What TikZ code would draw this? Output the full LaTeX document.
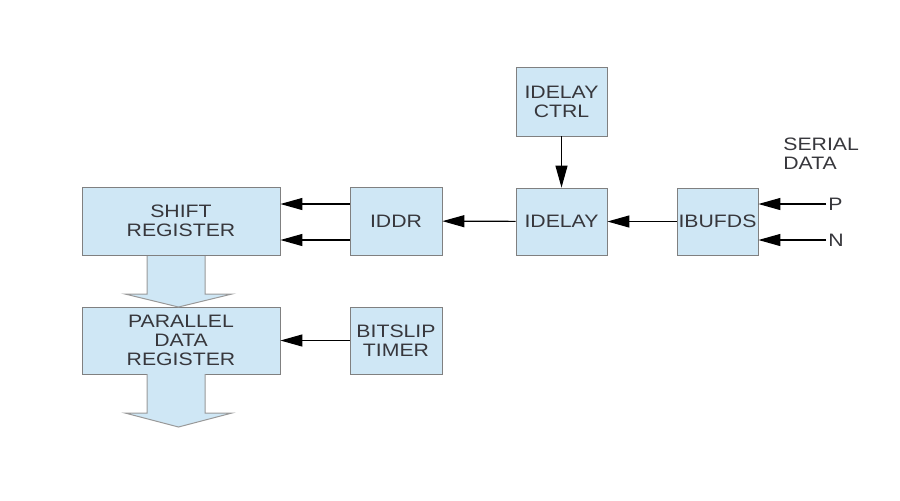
\documentclass[tikz,border=0pt]{standalone}
\usepackage{fontspec}
\setmainfont{Liberation Sans}[FakeStretch=1.18]
\usetikzlibrary{arrows.meta}
\usetikzlibrary{calc}

\definecolor{boxblue}{RGB}{207,231,245}
\definecolor{boxline}{RGB}{128,128,128}
\definecolor{txtgray}{RGB}{55,55,60}

\tikzset{
  blk/.style={draw=boxline,fill=boxblue,text=txtgray,align=center,
    inner sep=0pt,font=\fontsize{9}{9.4}\selectfont},
  lbl/.style={text=txtgray,inner sep=1pt,font=\fontsize{9}{9.4}\selectfont},
  sig/.style={->,>={Triangle[length=11pt,width=6pt]},draw=black,line width=0.6pt},
  bigarrow/.style={draw=boxline!80,fill=boxblue,line width=0.5pt}
}

\begin{document}
\begin{tikzpicture}[x=0.5pt,y=-0.5pt]
\useasboundingbox[fill=white] (0,0) rectangle (900,500);

% blocks
\node[blk,minimum width=99pt,minimum height=34pt] (sreg) at (181,221) {SHIFT\\REGISTER};
\node[blk,minimum width=46pt,minimum height=34pt] (iddr) at (396,221) {IDDR};
\node[blk,minimum width=45.5pt,minimum height=33.5pt] (idelay) at (561.5,221.5) {IDELAY};
\node[blk,minimum width=45.5pt,minimum height=34.5pt] (idctrl) at (561.5,101.5) {IDELAY\\CTRL};
\node[blk,minimum width=40.5pt,minimum height=33.5pt] (ibufds) at (717.5,221.5) {IBUFDS};
\node[blk,minimum width=99pt,minimum height=33.5pt] (preg) at (181,340.5) {PARALLEL\\DATA\\REGISTER};
\node[blk,minimum width=46pt,minimum height=33.5pt] (bitslip) at (396,340.5) {BITSLIP\\TIMER};

% inputs
\node[lbl,anchor=west,align=left] (serial) at (781,154) {SERIAL\\DATA};
\node[lbl,anchor=west] (pin) at (826,204) {P};
\node[lbl,anchor=west] (nin) at (826,240) {N};

% signal lines
\draw[sig] (pin.west) -- (pin.west -| ibufds.east);
\draw[sig] (nin.west) -- (nin.west -| ibufds.east);
\draw[sig] (ibufds) -- (idelay);
\draw[sig] (idctrl) -- (idelay);
\draw[sig] (idelay) -- (iddr);
\draw[sig] ([yshift=8.5pt]iddr.west) -- ([yshift=8.5pt]sreg.east);
\draw[sig] ([yshift=-9.5pt]iddr.west) -- ([yshift=-9.5pt]sreg.east);
\draw[sig] (bitslip) -- (preg);

% block arrows
\draw[bigarrow] (147,256) -- (147,294) -- (125,294) -- (178.5,307)
  -- (232,294) -- (205,294) -- (205,256);
\draw[bigarrow] (147,374) -- (147,413) -- (125,413) -- (178.5,427)
  -- (232,413) -- (205,413) -- (205,374);
\end{tikzpicture}
\end{document}
